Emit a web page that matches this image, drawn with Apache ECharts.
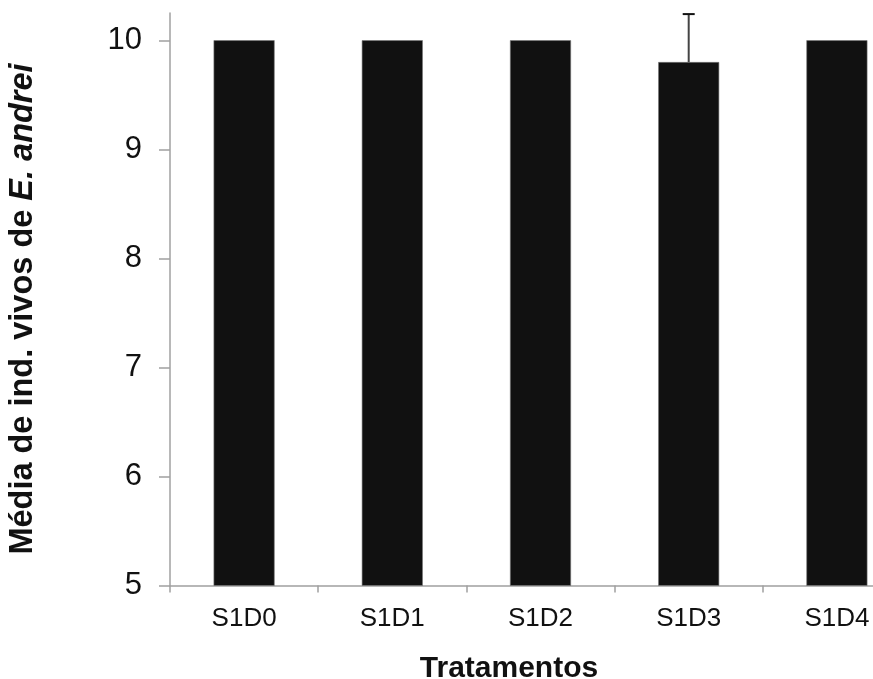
<!DOCTYPE html>
<html>
<head>
<meta charset="utf-8">
<script src="https://cdn.jsdelivr.net/npm/echarts@6/dist/echarts.min.js"></script>
<style>
  html, body { margin: 0; padding: 0; background: #fff; overflow: hidden; }
  /* the plot runs past the right edge of the window, so the canvas is wider than the view */
  #chart { width: 911px; height: 679px; }
</style>
</head>
<body>
<div id="chart"></div>
<script>
// Treatments and mean number of live E. andrei individuals
const categories = ['S1D0', 'S1D1', 'S1D2', 'S1D3', 'S1D4'];
const means = [10, 10, 10, 9.8, 10];
const errors = [0, 0, 0, 0.44, 0];
const yTicks = [5, 6, 7, 8, 9, 10];

const axisGrey = '#a0a0a0';
const font = '"Liberation Sans", Arial, sans-serif';

const chart = echarts.init(document.getElementById('chart'), null, { renderer: 'canvas' });

chart.setOption({
  animation: false,
  backgroundColor: '#fff',
  grid: { left: 170, top: 13, bottom: 93.5, right: 0, containLabel: false },
  xAxis: {
    type: 'category',
    data: categories,
    boundaryGap: true,
    axisLine: { lineStyle: { color: axisGrey, width: 1.5 } },
    axisTick: { show: true, length: 7, alignWithLabel: false, lineStyle: { color: axisGrey, width: 1.5 } },
    axisLabel: { color: '#111', fontSize: 26, fontFamily: font, margin: 20 },
    splitLine: { show: false }
  },
  yAxis: {
    type: 'value',
    min: 5,
    max: 10.25,
    interval: 1,
    axisLine: { show: true, lineStyle: { color: axisGrey, width: 1.5 } },
    axisTick: { show: true, length: 11, customValues: yTicks, lineStyle: { color: axisGrey, width: 1.5 } },
    axisLabel: { color: '#111', fontSize: 31, fontFamily: font, margin: 28, customValues: yTicks },
    splitLine: { show: false }
  },
  series: [
    {
      type: 'bar',
      data: means,
      barWidth: 61,
      itemStyle: { color: '#111', borderColor: '#777', borderWidth: 0.6 },
      z: 2
    },
    {
      type: 'custom',
      z: 3,
      data: means.map((m, i) => [i, m, errors[i]]),
      renderItem: function (params, api) {
        const err = api.value(2);
        if (!err) return null;
        const idx = api.value(0);
        const m = api.value(1);
        const base = api.coord([idx, m]);
        const top = api.coord([idx, m + err]);
        const half = 6;
        return {
          type: 'group',
          children: [
            { type: 'line', shape: { x1: base[0], y1: base[1], x2: top[0], y2: top[1] },
              style: { stroke: '#444', lineWidth: 2 } },
            { type: 'line', shape: { x1: top[0] - half, y1: top[1], x2: top[0] + half, y2: top[1] },
              style: { stroke: '#111', lineWidth: 2 } }
          ]
        };
      }
    }
  ],
  graphic: [
    {
      type: 'text',
      x: 509, y: 669,
      style: {
        text: 'Tratamentos',
        font: 'bold 30px ' + font,
        fill: '#111',
        align: 'center',
        verticalAlign: 'middle'
      }
    },
    {
      type: 'text',
      x: 23, y: 309,
      rotation: Math.PI / 2,
      style: {
        text: '{a|Média de ind. vivos de }{b|E. andrei}',
        align: 'center',
        verticalAlign: 'middle',
        fill: '#111',
        rich: {
          a: { font: 'bold 32.5px ' + font, fill: '#111' },
          b: { font: 'italic bold 32.5px ' + font, fill: '#111' }
        }
      }
    }
  ]
});
</script>
</body>
</html>
